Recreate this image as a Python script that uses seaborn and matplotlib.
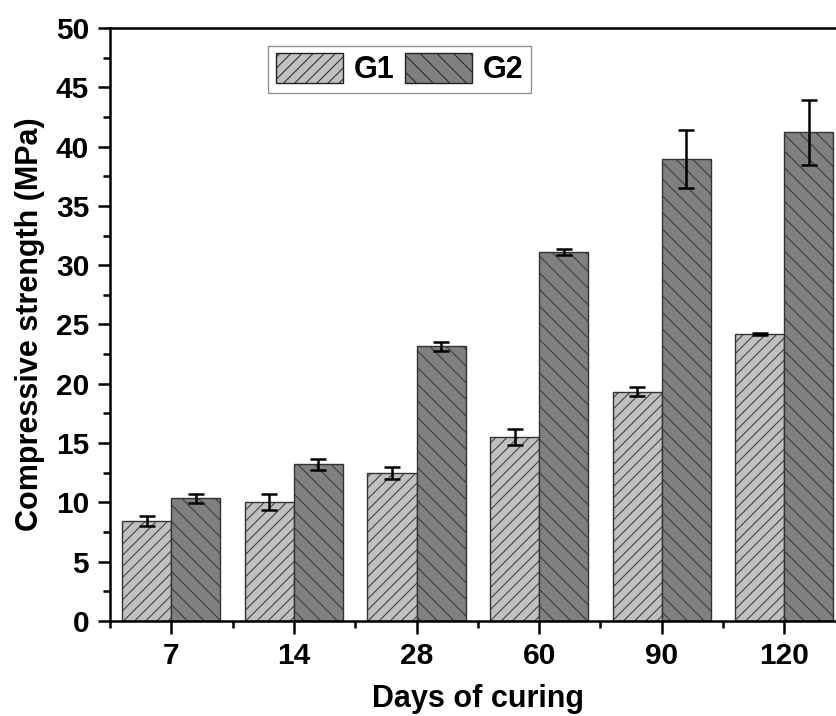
import pandas as pd
import matplotlib
matplotlib.use("Agg")
import matplotlib.pyplot as plt
from matplotlib.ticker import MultipleLocator
import seaborn as sns

# data
days = ["7", "14", "28", "60", "90", "120"]
g1_mean = [8.45, 10.05, 12.45, 15.5, 19.35, 24.2]
g1_err = [0.4, 0.7, 0.5, 0.65, 0.35, 0.1]
g2_mean = [10.35, 13.2, 23.15, 31.1, 38.95, 41.2]
g2_err = [0.4, 0.45, 0.4, 0.25, 2.45, 2.75]

df = pd.DataFrame({
    "Days": days * 2,
    "Strength": g1_mean + g2_mean,
    "Group": ["G1"] * len(days) + ["G2"] * len(days),
})

sns.set_style("ticks")
plt.rcParams["font.family"] = ["Liberation Sans", "DejaVu Sans"]
plt.rcParams["font.weight"] = "bold"
plt.rcParams["text.color"] = "black"
plt.rcParams["axes.labelcolor"] = "black"
plt.rcParams["xtick.color"] = "black"
plt.rcParams["ytick.color"] = "black"
plt.rcParams["hatch.linewidth"] = 0.7
plt.rcParams["hatch.color"] = "#222222"

fig = plt.figure(figsize=(8.36, 7.16), dpi=100)
ax = fig.add_axes([110 / 836, 95 / 716, 735.6 / 836, 593 / 716])

sns.barplot(data=df, x="Days", y="Strength", hue="Group", order=days,
            palette=["#c0c0c0", "#808080"], edgecolor="#333333",
            linewidth=1.0, errorbar=None, width=0.8, ax=ax)

# hatching and error bars
hatches = ["///", "\\\\"]
errs = [g1_err, g2_err]
for cont, hatch, err in zip(ax.containers, hatches, errs):
    xs, ys = [], []
    for bar in cont:
        bar.set_hatch(hatch)
        xs.append(bar.get_x() + bar.get_width() / 2)
        ys.append(bar.get_height())
    ax.errorbar(xs, ys, yerr=err, fmt="none", ecolor="black",
                elinewidth=1.8, capsize=6, capthick=1.8, zorder=5)

ax.set_xlim(-0.5, 5.5)
ax.set_ylim(0, 50)
ax.yaxis.set_major_locator(MultipleLocator(5))
ax.yaxis.set_minor_locator(MultipleLocator(2.5))
ax.set_xticks(range(len(days)), minor=False)
ax.set_xticks([i - 0.5 for i in range(len(days) + 1)], minor=True)

for s in ax.spines.values():
    s.set_linewidth(1.8)
    s.set_color("black")
ax.tick_params(axis="both", which="major", direction="out", length=9,
               width=1.8, labelsize=21.5, pad=6, colors="black")
ax.tick_params(axis="both", which="minor", direction="out", length=5,
               width=1.8, colors="black")

ax.set_xlabel("Days of curing", fontsize=22, fontweight="bold", labelpad=10,
              color="black")
ax.set_ylabel("Compressive strength (MPa)", fontsize=22, fontweight="bold",
              labelpad=8, color="black")

leg = ax.legend(loc="upper left", bbox_to_anchor=(0.215, 0.97), ncol=2,
                fontsize=22, frameon=True, fancybox=False, handlelength=2.2,
                handleheight=1.1, columnspacing=0.35, handletextpad=0.35,
                borderpad=0.25, borderaxespad=0)
leg.get_frame().set_edgecolor("#777777")
leg.get_frame().set_linewidth(1.0)
for p, hatch in zip(leg.get_patches(), hatches):
    p.set_hatch(hatch)
    p.set_edgecolor("#222222")
for t in leg.get_texts():
    t.set_fontweight("bold")
    t.set_color("black")

fig.savefig("out.png", dpi=100)
